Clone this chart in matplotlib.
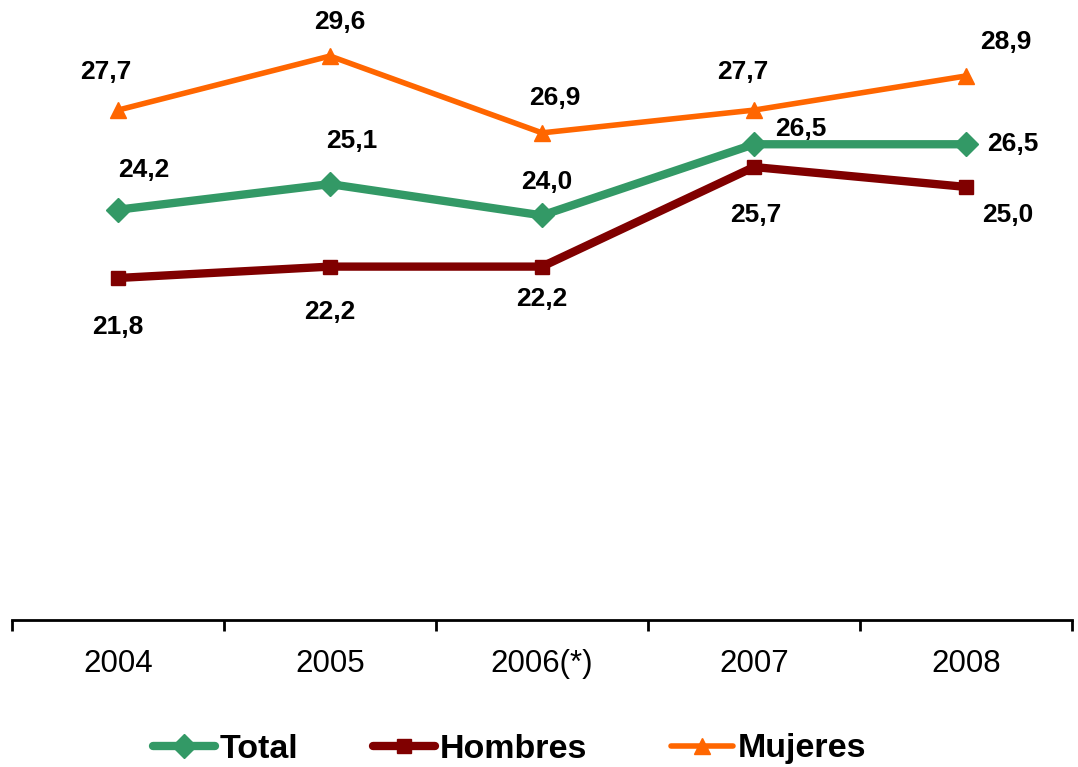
import matplotlib
matplotlib.use("Agg")
import matplotlib.pyplot as plt

categories = ["2004", "2005", "2006(*)", "2007", "2008"]
total = [24.2, 25.1, 24.0, 26.5, 26.5]
hombres = [21.8, 22.2, 22.2, 25.7, 25.0]
mujeres = [27.7, 29.6, 26.9, 27.7, 28.9]

# label offsets in pixels (style only)
off_total = [(26, 40), (22, 43), (5, 33), (47, 15), (47, 0)]
off_hombres = [(0, -49), (0, -45), (0, -32), (2, -48), (42, -28)]
off_mujeres = [(-12, 38), (10, 34), (13, 35), (-11, 38), (40, 34)]

plt.rcParams['font.family'] = ['Liberation Sans', 'DejaVu Sans']

W, H = 1078, 767
fig = plt.figure(figsize=(W / 100, H / 100), dpi=100)
ax = fig.add_axes([12 / W, (H - 620) / H, 1060 / W, 620 / H])

x = list(range(len(categories)))
series = [
    ("Total", total, "#339966", "D", 6, 12, off_total),
    ("Hombres", hombres, "#800000", "s", 6, 10, off_hombres),
    ("Mujeres", mujeres, "#FF6600", "^", 4, 11, off_mujeres),
]
handles = []
for name, vals, col, mk, lw, ms, offs in series:
    ln, = ax.plot(x, vals, color=col, marker=mk, lw=lw, ms=ms, mec=col, mfc=col,
                  solid_capstyle="round", solid_joinstyle="round", label=name, zorder=3)
    handles.append(ln)
    for xi, v, (dx, dy) in zip(x, vals, offs):
        ax.annotate(f"{v:.1f}".replace(".", ","), (xi, v), xytext=(dx, dy),
                    textcoords="offset pixels", ha="center", va="center",
                    fontsize=19, fontweight="bold", color="black")

ax.set_xlim(-0.5, len(categories) - 0.5)
ax.set_ylim(9.78, 31.57)
for s in ["top", "right", "left"]:
    ax.spines[s].set_visible(False)
ax.spines["bottom"].set_linewidth(2)
ax.set_yticks([])
ax.set_xticks([i - 0.5 for i in range(len(categories) + 1)])
ax.set_xticklabels([])
ax.set_xticks(x, minor=True)
ax.set_xticklabels(categories, minor=True, fontsize=22.5)
ax.tick_params(axis="x", which="major", direction="out", length=8, width=2)
ax.tick_params(axis="x", which="minor", length=0, pad=21)

legend_x = [153, 373, 671]
for h, lx in zip(handles, legend_x):
    fig.legend(handles=[h], loc="center left", bbox_to_anchor=(lx / W, 1 - 749 / H),
               frameon=False, borderpad=0, borderaxespad=0, handlelength=1.82,
               handletextpad=0.15, prop={"size": 24.5, "weight": "bold"})

fig.savefig("out.png", dpi=100)
